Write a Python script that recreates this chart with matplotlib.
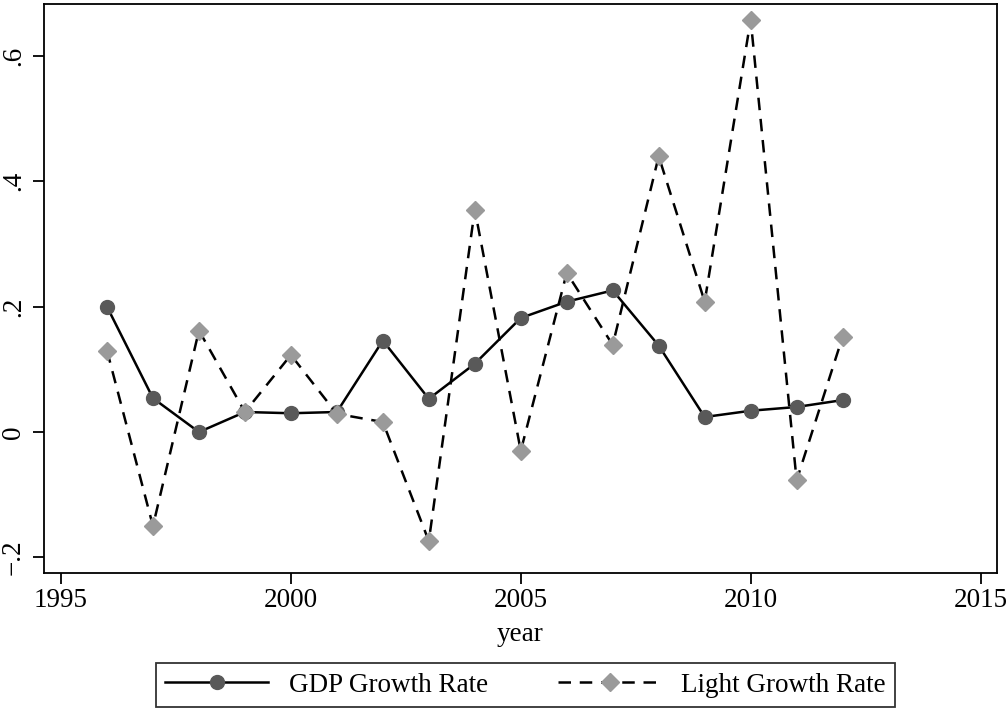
import matplotlib
matplotlib.use('Agg')
import matplotlib.pyplot as plt

# --- Data ---
years = list(range(1996, 2013))
gdp_growth = [0.200, 0.054, 0.000, 0.032, 0.030, 0.032, 0.146, 0.053, 0.109,
              0.182, 0.208, 0.226, 0.138, 0.024, 0.034, 0.040, 0.051]
light_growth = [0.130, -0.150, 0.162, 0.032, 0.123, 0.029, 0.016, -0.174, 0.355,
                -0.030, 0.254, 0.139, 0.440, 0.208, 0.658, -0.077, 0.152]
x_ticks = [1995, 2000, 2005, 2010, 2015]
y_ticks = [-0.2, 0, 0.2, 0.4, 0.6]
y_labels = ['\u2212.2', '0', '.2', '.4', '.6']

plt.rcParams['font.family'] = ['Liberation Serif', 'DejaVu Serif']

fig = plt.figure(figsize=(10.07, 7.11), dpi=100)
ax = fig.add_axes([0.0437, 0.194, 0.946, 0.8004])

ax.plot(years, gdp_growth, color='black', lw=1.8, marker='o', markersize=10,
        markerfacecolor='#595959', markeredgecolor='#595959', label='GDP Growth Rate')
ax.plot(years, light_growth, color='black', lw=1.8, ls=(0, (5, 3.5)), marker='D',
        markersize=9.5, markerfacecolor='#9a9a9a', markeredgecolor='#9a9a9a',
        label='Light Growth Rate')

ax.set_xlim(1994.63, 2015.35)
ax.set_ylim(-0.225, 0.683)
ax.set_xticks(x_ticks)
ax.set_yticks(y_ticks)
ax.set_yticklabels(y_labels, rotation=90, va='center')
ax.tick_params(labelsize=19.5, length=8, width=1.3, color='black')
ax.tick_params(axis='x', pad=3)
ax.tick_params(axis='y', pad=5)
for s in ax.spines.values():
    s.set_linewidth(1.3)
ax.set_xlabel('year', fontsize=19.5, labelpad=6)

fig.legend(loc='center', bbox_to_anchor=(0.522, 0.036), ncol=2, fontsize=19.5,
           frameon=True, fancybox=False, edgecolor='black', handlelength=3.8,
           handletextpad=0.75, columnspacing=2.6, borderpad=0.35)
fig.legends[0].get_frame().set_linewidth(1.3)

plt.savefig('out.png', dpi=100)
